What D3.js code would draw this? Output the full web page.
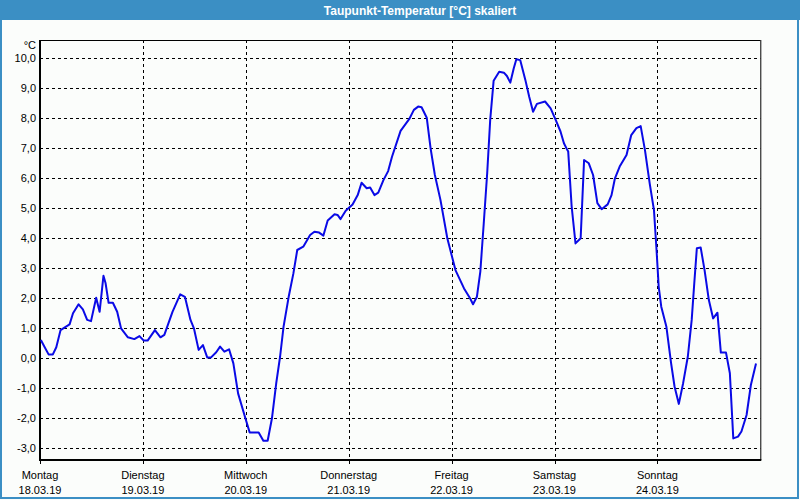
<!DOCTYPE html>
<html><head><meta charset="utf-8">
<script src="https://cdn.jsdelivr.net/npm/d3@7"></script>
<style>html,body{margin:0;padding:0;background:#fbfdfb;}svg{display:block;}</style>
</head><body>
<svg id="chart" width="800" height="500"></svg>
<script>
const title = "Taupunkt-Temperatur [°C] skaliert";
const unit = "°C";
const dayNames = ["Montag","Dienstag","Mittwoch","Donnerstag","Freitag","Samstag","Sonntag"];
const dayDates = ["18.03.19","19.03.19","20.03.19","21.03.19","22.03.19","23.03.19","24.03.19"];
const dayHours = [0,24,48,72,96,120,144];
const yTicks = [-3,-2,-1,0,1,2,3,4,5,6,7,8,9,10];
// hours since Monday 00:00
const hours = [0.2,1.1,2.0,3.0,3.8,4.8,5.7,6.9,7.7,9.0,10.0,11.0,11.9,13.1,13.9,14.8,15.3,16.0,17.0,18.0,18.9,20.5,22.0,23.2,24.2,25.1,26.8,28.1,29.0,30.9,32.7,33.8,35.1,35.9,37.0,38.0,39.0,39.9,
 41.1,42.0,43.0,44.1,45.1,46.2,47.8,48.9,51.0,52.1,53.1,54.1,55.1,56.0,56.8,58.0,59.1,60.0,61.4,63.0,64.0,65.1,66.1,67.1,68.7,69.4,70.1,71.3,72.9,74.1,75.0,76.2,77.0,78.0,78.9,80.1,81.2,
 82.1,84.1,86.1,87.2,88.2,89.0,90.2,91.1,92.1,93.4,95.0,96.9,98.9,100.3,101.0,101.9,102.7,103.5,104.3,105.0,105.8,107.1,108.2,108.9,109.7,110.5,111.1,112.0,113.2,114.1,115.0,115.9,117.8,119.1,120.3,121.4,122.2,123.0,123.2,
 124.0,124.9,126.1,126.9,128.0,129.0,130.0,131.0,132.4,133.3,134.1,135.2,136.8,137.9,139.1,140.1,141.1,142.2,143.2,143.8,144.3,144.9,146.1,147.2,148.0,149.0,150.0,151.1,152.0,152.6,153.2,154.1,155.0,156.0,157.0,158.0,158.8,160.0,160.9,161.7,162.8,163.6,164.8,165.8,167.0];
const temps = [0.61,0.37,0.13,0.13,0.37,0.94,1.02,1.13,1.5,1.8,1.63,1.28,1.24,2.02,1.55,2.75,2.5,1.85,1.85,1.55,1.0,0.7,0.64,0.74,0.59,0.59,0.94,0.7,0.78,1.55,2.13,2.05,1.28,1.0,0.28,0.44,0.03,0.03,
 0.2,0.39,0.22,0.3,-0.17,-1.17,-1.95,-2.47,-2.47,-2.75,-2.75,-2.0,-0.83,0.06,1.05,2.05,2.83,3.61,3.72,4.11,4.22,4.19,4.09,4.59,4.8,4.78,4.64,4.92,5.13,5.44,5.85,5.67,5.69,5.44,5.52,5.94,6.24,
 6.72,7.58,7.97,8.28,8.39,8.37,8.02,7.0,6.11,5.28,4.0,2.94,2.33,2.0,1.8,2.05,2.89,4.5,6.17,7.94,9.25,9.55,9.52,9.41,9.19,9.67,9.97,9.94,9.28,8.72,8.22,8.48,8.56,8.33,7.94,7.56,7.17,6.94,6.89,
 5.06,3.83,4.0,6.61,6.5,6.11,5.17,4.97,5.13,5.44,6.0,6.39,6.78,7.44,7.67,7.74,6.94,5.83,4.94,3.61,2.39,1.72,1.05,-0.17,-0.94,-1.52,-0.83,0.06,1.28,2.5,3.67,3.69,2.94,1.94,1.33,1.52,0.19,0.19,-0.5,-2.67,-2.61,-2.44,-1.89,-0.89,-0.17];

const svg = d3.select("#chart");
const L = 40, R = 760.3, T = 40, B = 460;
const x = d3.scaleLinear().domain([0,168]).range([L,R]);
const y = d3.scaleLinear().domain([-3.39,10.61]).range([B,T]);
const font = "'Liberation Sans', Arial, sans-serif";

svg.append("rect").attr("x",0).attr("y",0).attr("width",800).attr("height",500).attr("fill","#fbfdfb");
// title bar
svg.append("rect").attr("x",0).attr("y",0).attr("width",800).attr("height",20).attr("fill","#3b8fc4");
svg.append("text").attr("x",420).attr("y",14.5).attr("text-anchor","middle").attr("fill","#fff")
  .attr("font-family",font).attr("font-weight","bold").attr("font-size","12px").text(title);
// window border
svg.append("rect").attr("x",1).attr("y",0).attr("width",797).attr("height",498)
  .attr("fill","none").attr("stroke","#3b8fc4").attr("stroke-width",2);

// grid
const g = svg.append("g");
g.selectAll("line.h").data(yTicks).join("line")
  .attr("x1",L).attr("x2",R).attr("y1",d=>Math.round(y(d))+0.5).attr("y2",d=>Math.round(y(d))+0.5)
  .attr("stroke","#000").attr("stroke-width",1).attr("stroke-dasharray","3,3");
g.selectAll("line.v").data(dayHours.slice(1)).join("line")
  .attr("x1",d=>Math.round(x(d))+0.5).attr("x2",d=>Math.round(x(d))+0.5).attr("y1",T).attr("y2",B+3)
  .attr("stroke","#000").attr("stroke-width",1).attr("stroke-dasharray","3,3");
// small ticks below axis
g.selectAll("line.t").data(dayHours).join("line")
  .attr("x1",d=>Math.round(x(d))+0.5).attr("x2",d=>Math.round(x(d))+0.5).attr("y1",B).attr("y2",B+4)
  .attr("stroke","#000").attr("stroke-width",1);

// frame
svg.append("line").attr("x1",L).attr("x2",R).attr("y1",T+0.5).attr("y2",T+0.5).attr("stroke","#000");
svg.append("line").attr("x1",R+0.5).attr("x2",R+0.5).attr("y1",T).attr("y2",B).attr("stroke","#000");
svg.append("line").attr("x1",L).attr("x2",L).attr("y1",T).attr("y2",B+1).attr("stroke","#000").attr("stroke-width",2);
svg.append("line").attr("x1",L).attr("x2",R+1).attr("y1",B).attr("y2",B).attr("stroke","#000").attr("stroke-width",2);

// y labels
const fmt = v => v.toFixed(1).replace(".", ",");
svg.selectAll("text.yl").data(yTicks).join("text")
  .attr("x",36).attr("y",d=>y(d)).attr("dy","0.36em").attr("text-anchor","end")
  .attr("font-family",font).attr("font-size","11px").attr("fill","#000").text(fmt);
svg.append("text").attr("x",36).attr("y",49).attr("text-anchor","end")
  .attr("font-family",font).attr("font-size","11px").attr("fill","#000").text(unit);

// x labels
svg.selectAll("text.xd").data(dayHours).join("text")
  .attr("x",d=>x(d)).attr("y",479).attr("text-anchor","middle")
  .attr("font-family",font).attr("font-size","11px").attr("fill","#000").text((d,i)=>dayNames[i]);
svg.selectAll("text.xt").data(dayHours).join("text")
  .attr("x",d=>x(d)).attr("y",494).attr("text-anchor","middle")
  .attr("font-family",font).attr("font-size","11px").attr("fill","#000").text((d,i)=>dayDates[i]);

// line
const pts = hours.map((h,i)=>[h,temps[i]]);
svg.append("path").datum(pts)
  .attr("d", d3.line().x(d=>x(d[0])).y(d=>y(d[1])))
  .attr("fill","none").attr("stroke","#0a0ae6").attr("stroke-width",2).attr("stroke-linejoin","round");
</script>
</body></html>
